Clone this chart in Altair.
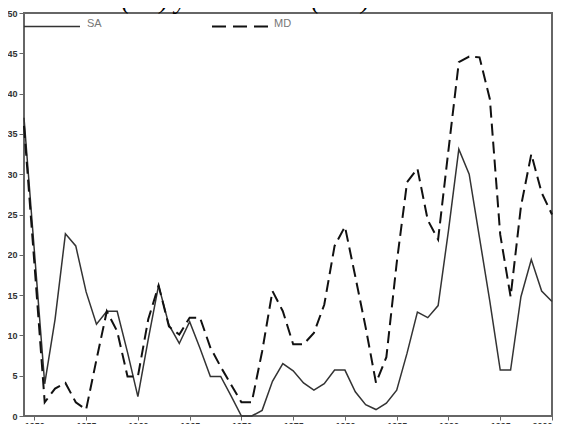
import altair as alt
import pandas as pd

years = list(range(1949, 2001))
sa = [37.0, 20.5, 4.0, 12.0, 22.6, 21.1, 15.4, 11.4, 13.0, 13.0,
      7.9, 2.4, 9.5, 16.2, 11.3, 9.0, 11.7, 8.4, 4.9, 4.9,
      2.5, 0.0, 0.0, 0.7, 4.3, 6.5, 5.6, 4.1, 3.2, 4.0,
      5.7, 5.7, 3.0, 1.4, 0.8, 1.6, 3.2, 7.8, 12.9, 12.2,
      13.7, 23.0, 33.1, 30.0, 22.1, 14.2, 5.7, 5.7, 14.8, 19.4,
      15.5, 14.2]
md = [36.0, 19.0, 1.7, 3.4, 4.1, 1.7, 0.8, 7.0, 13.0, 10.5,
      4.9, 4.9, 12.0, 16.2, 11.1, 10.1, 12.2, 12.2, 8.5, 6.1,
      3.9, 1.7, 1.7, 8.0, 15.5, 13.0, 8.9, 8.9, 10.3, 13.8,
      21.1, 23.5, 17.3, 11.0, 4.1, 7.3, 19.0, 29.0, 30.7, 24.3,
      21.9, 33.0, 43.9, 44.6, 44.5, 39.3, 22.5, 14.8, 26.0, 32.5,
      27.7, 25.0]
x_ticks = [1950, 1955, 1960, 1965, 1970, 1975, 1980, 1985, 1990, 1995, 2000]
y_ticks = [0, 5, 10, 15, 20, 25, 30, 35, 40, 45, 50]
title_text = "Salamanca (SA) y en Madrid (MD)."

df = pd.DataFrame({"year": years, "SA": sa, "MD": md})

x_enc = alt.X("year:Q",
              scale=alt.Scale(domain=[1949, 2000], nice=False, zero=False),
              axis=alt.Axis(values=x_ticks, format="d", title=None, grid=False,
                            domain=False, tickColor="#666", tickSize=4,
                            labelFontSize=9, labelColor="#333", labelPadding=1,
                            labelFont="Liberation Sans", labelFontWeight="bold"))
y_scale = alt.Scale(domain=[0, 50], nice=False)
y_axis = alt.Axis(values=y_ticks, title=None, grid=False, domain=False,
                  tickColor="#666", tickSize=5, labelFontSize=9, labelColor="#333",
                  labelPadding=2, labelFont="Liberation Sans", labelFontWeight="bold")

base = alt.Chart(df)

sa_line = base.mark_line(color="#333333", strokeWidth=1.5).encode(
    x=x_enc, y=alt.Y("SA:Q", scale=y_scale, axis=y_axis))
md_line = base.mark_line(color="#111111", strokeWidth=2, strokeDash=[12, 6]).encode(
    x="year:Q", y=alt.Y("MD:Q", scale=y_scale))

leg_sa = alt.Chart(pd.DataFrame({"a": [0]})).mark_rule(color="#333333", strokeWidth=1.5).encode(
    x=alt.value(0), x2=alt.value(56), y=alt.value(13.5))
leg_md = alt.Chart(pd.DataFrame({"a": [0]})).mark_rule(color="#111111", strokeWidth=2,
                                                       strokeDash=[14, 7]).encode(
    x=alt.value(188), x2=alt.value(244), y=alt.value(13.5))
leg_sa_t = alt.Chart(pd.DataFrame({"t": ["SA"]})).mark_text(
    align="left", baseline="middle", fontSize=11, color="#777", font="Liberation Sans").encode(
    x=alt.value(63), y=alt.value(10.5), text="t:N")
leg_md_t = alt.Chart(pd.DataFrame({"t": ["MD"]})).mark_text(
    align="left", baseline="middle", fontSize=11, color="#777", font="Liberation Sans").encode(
    x=alt.value(250), y=alt.value(10.5), text="t:N")
title = alt.Chart(pd.DataFrame({"t": [title_text]})).mark_text(
    align="left", baseline="alphabetic", fontSize=26.5, fontStyle="italic",
    font="Liberation Serif", color="#000").encode(
    x=alt.value(-27), y=alt.value(-5.5), text="t:N")

chart = alt.layer(sa_line, md_line, leg_sa, leg_md, leg_sa_t, leg_md_t, title).properties(
    width=528, height=403,
    autosize=alt.AutoSizeParams(type="none"),
    padding={"left": 16, "top": 5, "right": 6, "bottom": 14},
).configure_view(stroke="#666666", strokeWidth=2)

chart.save("out.html", embed_options={"renderer": "svg", "actions": False})
